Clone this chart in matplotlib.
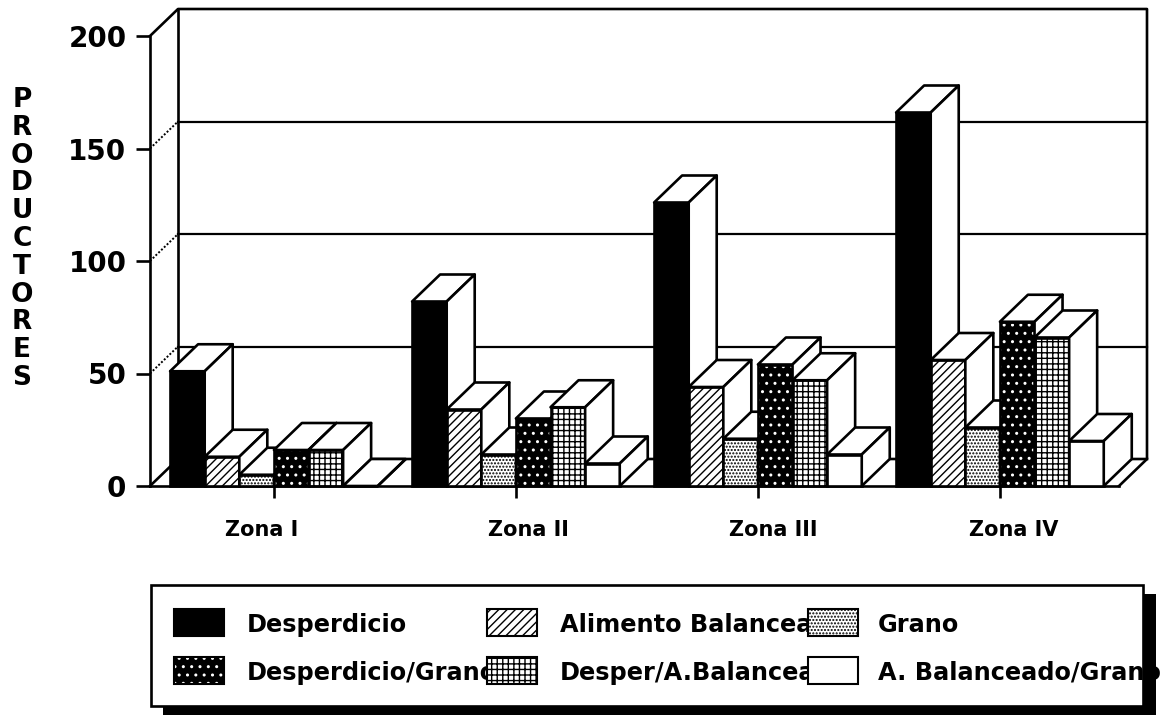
import matplotlib
matplotlib.use("Agg")

import matplotlib.pyplot as plt
from matplotlib.patches import Polygon, Rectangle
from matplotlib.transforms import ScaledTranslation

ZONES = ["Zona I", "Zona II", "Zona III", "Zona IV"]
Y_TICKS = [0, 50, 100, 150, 200]

DESPERDICIO = [51, 82, 126, 166]
ALIMENTO = [13, 34, 44, 56]
GRANO = [5, 14, 21, 26]
DESP_GRANO = [16, 30, 54, 73]
DESP_ALIM = [16, 35, 47, 66]
ALIM_GRANO = [0, 10, 14, 20]

SERIES_VALUES = [DESPERDICIO, ALIMENTO, GRANO, DESP_GRANO, DESP_ALIM, ALIM_GRANO]
SERIES_LABELS = [
    "Desperdicio",
    "Alimento Balanceado",
    "Grano",
    "Desperdicio/Grano",
    "Desper/A.Balanceado",
    "A. Balanceado/Grano",
]
# face colour, hatch colour, hatch
SERIES_STYLES = [
    ("black", "black", None),
    ("white", "black", "////"),
    ("white", "black", "....."),
    ("black", "white", ".."),
    ("white", "black", "+++"),
    ("white", "black", None),
]

W, H = 1169, 715
LW = 1.9
BAR_W = 0.143
DX = 0.1157
DY = 12.0
XMIN, XMAX = -0.512, 3.492
FONT = "DejaVu Sans"

plt.rcParams["font.family"] = FONT
plt.rcParams["font.weight"] = "bold"
plt.rcParams["hatch.linewidth"] = 1.0


def draw_bar(ax, x, value, style, order):
    face, hatch_color, hatch = style
    ax.bar(x, value, BAR_W, align="edge", color=face, edgecolor=hatch_color, hatch=hatch,
           linewidth=0, zorder=order, clip_on=False)
    ax.bar(x, value, BAR_W, align="edge", fill=False, edgecolor="black",
           linewidth=LW, zorder=order, clip_on=False)
    top = [(x, value), (x + DX, value + DY), (x + BAR_W + DX, value + DY), (x + BAR_W, value)]
    side = [(x + BAR_W, 0), (x + BAR_W + DX, DY), (x + BAR_W + DX, value + DY), (x + BAR_W, value)]
    for pts in (top, side):
        ax.add_patch(Polygon(pts, closed=True, facecolor="white", edgecolor="black",
                             linewidth=LW, joinstyle="round", zorder=order, clip_on=False))


def draw_walls(ax):
    back_left = XMIN + DX
    back_right = XMAX + DX
    for tick in Y_TICKS[1:-1]:
        ax.plot([back_left, back_right], [tick + DY, tick + DY], color="black", lw=1.6, clip_on=False, zorder=1)
        ax.plot([XMIN, back_left], [tick, tick + DY], color="black", lw=1.4, ls=(0, (1, 1)), clip_on=False, zorder=1)
    outline = [
        (XMIN, 200), (back_left, 200 + DY), (back_right, 200 + DY),
        (back_right, DY), (XMAX, 0),
    ]
    ax.plot(*zip(*outline), color="black", lw=LW, clip_on=False, zorder=1)
    ax.plot([back_left, back_left], [DY, 200 + DY], color="black", lw=LW, clip_on=False, zorder=1)
    ax.plot([XMIN, back_left, back_right], [0, DY, DY], color="black", lw=LW, clip_on=False, zorder=1)


def draw_legend(fig):
    leg = fig.add_axes([0, 0, 1, 1])
    leg.set_xlim(0, W)
    leg.set_ylim(H, 0)
    leg.axis("off")

    leg.add_patch(Rectangle((151, 585), 992, 121, facecolor="white", edgecolor="black", linewidth=LW, zorder=2))
    # shadow: bottom strip and right strip, the right one lies over the long label
    leg.add_patch(Rectangle((163, 707), 993, 12, facecolor="black", edgecolor="none", zorder=5))
    leg.add_patch(Rectangle((1144, 594), 12, 125, facecolor="black", edgecolor="none", zorder=5))

    swatch_x = [174, 487, 808]
    text_x = [247, 560, 878]
    swatch_y = [609, 657]
    text_y = [625, 673]
    for i, (label, style) in enumerate(zip(SERIES_LABELS, SERIES_STYLES)):
        row, col = divmod(i, 3)
        face, hatch_color, hatch = style
        leg.text(text_x[col], text_y[row], label, fontsize=17.3, va="center", ha="left", zorder=3)
        leg.add_patch(Rectangle((swatch_x[col], swatch_y[row]), 50, 27, facecolor=face,
                                edgecolor=hatch_color, hatch=hatch, linewidth=0, zorder=4))
        leg.add_patch(Rectangle((swatch_x[col], swatch_y[row]), 50, 27, fill=False,
                                edgecolor="black", linewidth=1.5, zorder=4))


def main():
    fig = plt.figure(figsize=(W / 100, H / 100), dpi=100)
    ax = fig.add_axes([150 / W, 1 - 486 / H, (1119 - 150) / W, (486 - 36) / H])
    ax.set_xlim(XMIN, XMAX)
    ax.set_ylim(0, 200)

    for spine in ("top", "right"):
        ax.spines[spine].set_visible(False)
    for spine in ("left", "bottom"):
        ax.spines[spine].set_linewidth(LW)

    draw_walls(ax)

    order = 3
    for zone in range(len(ZONES)):
        for s, values in enumerate(SERIES_VALUES):
            x = zone - 3 * BAR_W + s * BAR_W
            draw_bar(ax, x, values[zone], SERIES_STYLES[s], order)
            order += 1

    ax.set_yticks(Y_TICKS)
    ax.set_xticks(range(len(ZONES)))
    ax.set_xticklabels(ZONES)
    ax.tick_params(axis="y", length=10, width=LW, labelsize=20, pad=7)
    ax.tick_params(axis="x", length=8.5, width=LW, labelsize=15, pad=16)

    # labels in the original do not sit exactly under their ticks
    shifts = [-12, 13, 15, 14]
    for label, shift in zip(ax.get_xticklabels(), shifts):
        label.set_transform(label.get_transform() + ScaledTranslation(shift / 100, 0, fig.dpi_scale_trans))

    fig.text(22 / W, 1 - 239 / H, "\n".join("PRODUCTORES"), fontsize=19, ha="center", va="center",
             linespacing=1.09)

    draw_legend(fig)

    fig.savefig("out.png", dpi=100)
    plt.close(fig)


if __name__ == "__main__":
    main()
